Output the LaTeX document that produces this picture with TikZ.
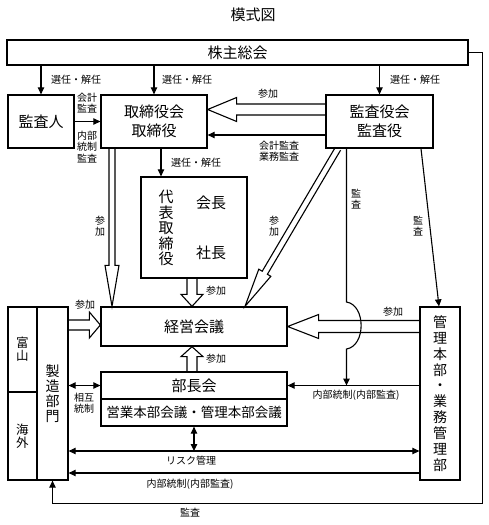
\documentclass[tikz,border=0pt]{standalone}
\usepackage{fontspec}
\setmainfont{Noto Sans CJK JP}
\usetikzlibrary{calc,arrows.meta}

\newcommand{\blockarrow}[5]{%
  \coordinate (ba-h) at ($(#2)!#5!(#1)$);
  \draw[blk] ($(#1)!#3!90:(#2)$) -- ($(ba-h)!#3!-90:(#1)$) -- ($(ba-h)!#4!-90:(#1)$) -- (#2) -- ($(ba-h)!#4!90:(#1)$) -- ($(ba-h)!#3!90:(#1)$) -- ($(#1)!#3!-90:(#2)$);
}

\begin{document}
\begin{tikzpicture}[x=1pt,y=-1pt,
  box/.style={draw,line width=1.3pt,inner sep=0pt,align=center,font=\fontsize{15}{18.5}\selectfont},
  vbox/.style={draw,line width=1.3pt,inner sep=0pt,align=center,font=\fontsize{14}{15.9}\selectfont},
  txt/.style={inner sep=0pt,align=center,font=\fontsize{15}{15.5}\selectfont},
  lbl/.style={inner sep=0pt,align=center,font=\fontsize{10}{11.5}\selectfont},
  arr/.style={line width=1.1pt,-{Triangle[length=7pt,width=6.5pt]}},
  darr/.style={line width=1.1pt,{Triangle[length=7pt,width=6.5pt]}-{Triangle[length=7pt,width=6.5pt]}},
  blk/.style={line width=1.1pt,line join=miter}
]
\useasboundingbox (0,0) rectangle (489,525);
% nodes
\node[font=\fontsize{15}{17}\selectfont] (title) at (253,15) {模式図};
\node[box,minimum width=461pt,minimum height=25pt] (kabu) at (237.5,52.5) {株主総会};
\node[box,minimum width=66pt,minimum height=53pt] (kansanin) at (41,121.5) {監査人};
\node[box,minimum width=106pt,minimum height=53pt] (tori) at (154,121.5) {取締役会\\取締役};
\node[box,minimum width=107pt,minimum height=53pt] (kansa) at (379.5,121.5) {監査役会\\監査役};
\node[box,minimum width=106pt,minimum height=101pt] (daihyo) at (194,227.5) {};
\node[txt] (daihyotxt) at (166,228) {代\\表\\取\\締\\役};
\node[txt] (kaicho) at (211,203) {会長};
\node[txt] (shacho) at (211,253) {社長};
\node[box,minimum width=186pt,minimum height=39pt] (keiei) at (194,326.5) {経営会議};
\node[box,minimum width=186pt,minimum height=27pt] (bucho) at (194,385.5) {部長会};
\node[box,minimum width=186pt,minimum height=27pt,font=\fontsize{13.5}{15}\selectfont] (eigyo) at (194,412.5) {営業本部会議・管理本部会議};
\node[vbox,minimum width=40pt,minimum height=173pt] (kanri) at (440,393.5) {管\\理\\本\\部\\・\\業\\務\\管\\理\\部};
\node[vbox,minimum width=29pt,minimum height=85pt,font=\fontsize{12.5}{13}\selectfont] (toyama) at (22.5,349.5) {富\\山};
\node[vbox,minimum width=29pt,minimum height=88pt,font=\fontsize{12.5}{13}\selectfont] (kaigai) at (22.5,436) {海\\外};
\node[vbox,minimum width=31pt,minimum height=173pt,font=\fontsize{14}{15}\selectfont] (seizo) at (52.5,393.5) {製\\造\\部\\門};

% election arrows
\draw[arr] (kabu.south -| kansanin.north) -- (kansanin.north);
\draw[arr] (kabu.south -| tori.north) -- (tori.north);
\draw[arr] (kabu.south -| kansa.north) -- (kansa.north);
\node[lbl] (l1) at (76,80) {選任・解任};
\node[lbl] (l2) at (187,80) {選任・解任};
\node[lbl] (l3) at (415,80) {選任・解任};

% auditor -> board
\draw[arr] (kansanin.east) -- (tori.west);
\node[lbl] (l4) at (87,103) {会計\\監査};
\node[lbl] (l5) at (87,147) {内部\\統制\\監査};

% auditors board -> board
\coordinate (a1s) at ($(kansa.west)+(0,-12)$);
\coordinate (a1e) at ($(tori.east)+(0,-12)$);
\blockarrow{a1s}{a1e}{5.5pt}{12pt}{29pt}
\node[lbl] (l6) at (268,94) {参加};
\draw[arr] ($(kansa.west)+(0,13.5)$) -- ($(tori.east)+(0,13.5)$);
\node[lbl] (l7) at (279,151) {会計監査\\業務監査};

% board -> representative
\draw[arr] (161,0 |- tori.south) -- (161,0 |- daihyo.north);
\node[lbl] (l8) at (196,163) {選任・解任};

% board -> management meeting
\coordinate (b1s) at (112,0 |- tori.south);
\coordinate (b1e) at (112,0 |- keiei.north);
\blockarrow{b1s}{b1e}{3pt}{7pt}{41pt}
\node[lbl] (l9) at (100,226) {参\\加};

% representative -> management meeting
\coordinate (b2s) at (192,0 |- daihyo.south);
\coordinate (b2e) at (192,0 |- keiei.north);
\blockarrow{b2s}{b2e}{5pt}{11pt}{12pt}
\node[lbl] (l10) at (216,291) {参加};

% auditors board -> management meeting (diagonal)
\coordinate (b3s) at (338,0 |- kansa.south);
\coordinate (b3e) at (245,0 |- keiei.north);
\blockarrow{b3s}{b3e}{3pt}{7pt}{39pt}
\node[lbl] (l11) at (274,226) {参\\加};

% audit line with bump
\draw[arr] (346.5,0 |- kansa.south) -- (346.5,302) .. controls (366,305) and (366,346) .. (346.5,349) -- (346.5,0 |- bucho.east);
\node[lbl] (l12) at (356,199) {監\\査};

% audit to admin
\draw[arr] (421,0 |- kansa.south) -- (439,0 |- kanri.north);
\node[lbl] (l13) at (418,226) {監\\査};

% admin -> management meeting
\coordinate (b4s) at (kanri.west |- keiei.east);
\blockarrow{b4s}{keiei.east}{6pt}{12pt}{31pt}
\node[lbl] (l14) at (393,312) {参加};

% bucho -> management meeting
\coordinate (b5s) at (192,0 |- bucho.north);
\coordinate (b5e) at (192,0 |- keiei.south);
\blockarrow{b5s}{b5e}{5pt}{11pt}{10pt}
\node[lbl] (l15) at (216,359) {参加};

% internal control admin -> bucho
\draw[arr] (kanri.west |- bucho.east) -- (bucho.east);
\node[lbl] (l16) at (356,395) {内部統制(内部監査)};

% mutual control
\draw[darr] (seizo.east |- bucho.west) -- (bucho.west);
\node[lbl] (l17) at (84,403) {相互\\統制};

% manufacturing -> management meeting
\coordinate (b6s) at (seizo.east |- 0,325);
\coordinate (b6e) at (keiei.west |- 0,325);
\blockarrow{b6s}{b6e}{5pt}{13pt}{11pt}
\node[lbl] (l18) at (85,305) {参加};

% risk management
\coordinate (riskL) at (seizo.east |- 0,451);
\coordinate (riskR) at (kanri.west |- 0,451);
\draw[darr] (riskL) -- (riskR);
\draw[darr] (eigyo.south) -- (eigyo.south |- riskL);
\node[lbl] (l19) at (191,461) {リスク管理};

% internal control admin -> manufacturing
\draw[arr] (kanri.west |- 0,473) -- (seizo.east |- 0,473);
\node[lbl] (l20) at (190,484) {内部統制(内部監査)};

% outer audit loop
\draw[arr] (kabu.east) -- ++(13.5,0) |- ($(seizo.south)+(0,23)$) -- (seizo.south);
\node[lbl] (l21) at (190,513) {監査};
\end{tikzpicture}
\end{document}
